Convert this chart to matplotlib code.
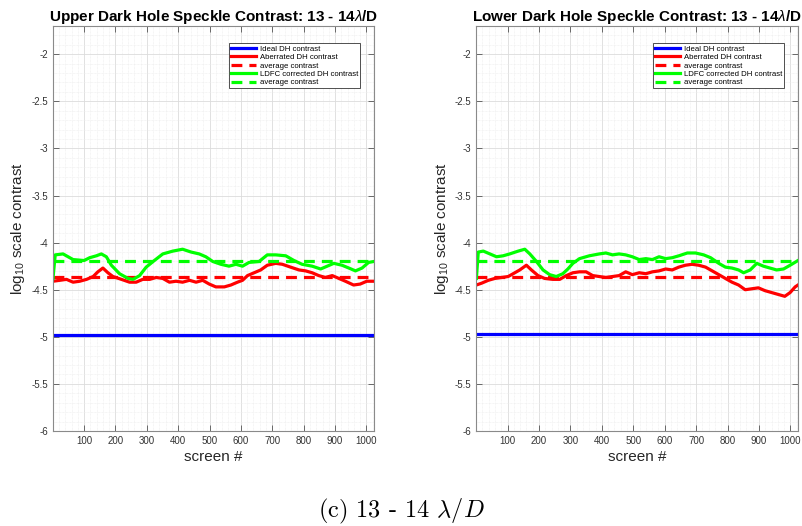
import matplotlib
matplotlib.use("Agg")
import matplotlib.pyplot as plt
from matplotlib.ticker import MultipleLocator
import numpy as np

plt.rcParams['font.family'] = ['Liberation Sans', 'DejaVu Sans']
plt.rcParams['mathtext.fontset'] = 'custom'
plt.rcParams['mathtext.rm'] = 'Liberation Sans'
plt.rcParams['mathtext.it'] = 'Liberation Sans:italic'

# ---- Upper dark hole ----
upper_ldfc_x = [1, 8, 33, 65, 100, 118, 139, 155, 171, 187, 213, 240, 256, 277, 298, 324,
                351, 383, 414, 441, 467, 488, 510, 536, 562, 584, 605, 626, 658, 684, 711,
                743, 769, 795, 827, 854, 875, 896, 922, 944, 965, 986, 1007, 1024]
upper_ldfc_y = [-4.38, -4.13, -4.12, -4.18, -4.19, -4.16, -4.14, -4.12, -4.15, -4.24, -4.33,
                -4.38, -4.39, -4.35, -4.26, -4.19, -4.12, -4.09, -4.07, -4.10, -4.12, -4.15,
                -4.20, -4.23, -4.25, -4.23, -4.25, -4.21, -4.20, -4.13, -4.13, -4.14, -4.19,
                -4.23, -4.25, -4.28, -4.25, -4.22, -4.24, -4.27, -4.30, -4.27, -4.21, -4.20]
upper_aber_x = [1, 23, 44, 65, 86, 108, 129, 144, 160, 176, 192, 219, 245, 266, 287, 309,
                330, 351, 372, 393, 414, 436, 457, 478, 499, 520, 547, 568, 589, 605, 621,
                642, 663, 684, 711, 732, 758, 785, 806, 827, 848, 869, 891, 912, 933, 959,
                980, 1001, 1024]
upper_aber_y = [-4.41, -4.40, -4.39, -4.42, -4.41, -4.39, -4.36, -4.31, -4.27, -4.32, -4.36,
                -4.39, -4.42, -4.42, -4.39, -4.39, -4.37, -4.38, -4.42, -4.41, -4.42, -4.40,
                -4.42, -4.40, -4.44, -4.47, -4.47, -4.45, -4.42, -4.40, -4.35, -4.32, -4.29,
                -4.24, -4.22, -4.23, -4.26, -4.29, -4.30, -4.32, -4.35, -4.37, -4.35, -4.38,
                -4.41, -4.45, -4.44, -4.41, -4.41]
upper_ideal = -4.985
upper_aber_avg = -4.37
upper_ldfc_avg = -4.195

# ---- Lower dark hole ----
lower_ldfc_x = [1, 7, 23, 44, 65, 86, 107, 134, 155, 171, 192, 213, 234, 255, 276, 292, 308,
                329, 360, 392, 413, 434, 455, 476, 497, 519, 540, 561, 582, 603, 624, 645,
                672, 698, 724, 746, 772, 793, 814, 835, 851, 872, 893, 914, 935, 956, 978,
                999, 1024]
lower_ldfc_y = [-4.38, -4.10, -4.09, -4.12, -4.15, -4.14, -4.12, -4.09, -4.07, -4.12, -4.20,
                -4.29, -4.34, -4.36, -4.33, -4.28, -4.22, -4.17, -4.14, -4.12, -4.11, -4.13,
                -4.12, -4.13, -4.15, -4.18, -4.17, -4.18, -4.15, -4.17, -4.16, -4.14, -4.11,
                -4.11, -4.13, -4.16, -4.22, -4.26, -4.27, -4.29, -4.32, -4.29, -4.22, -4.25,
                -4.27, -4.29, -4.28, -4.24, -4.19]
lower_aber_x = [1, 18, 39, 60, 81, 102, 118, 139, 160, 176, 197, 218, 244, 266, 287, 308,
                329, 350, 371, 392, 413, 434, 455, 476, 497, 519, 540, 561, 582, 603, 624,
                645, 666, 687, 708, 730, 751, 772, 793, 814, 835, 856, 877, 898, 919, 940,
                961, 982, 999, 1015, 1024]
lower_aber_y = [-4.45, -4.43, -4.40, -4.38, -4.37, -4.36, -4.33, -4.29, -4.24, -4.29, -4.35,
                -4.38, -4.39, -4.39, -4.35, -4.32, -4.31, -4.31, -4.35, -4.36, -4.37, -4.36,
                -4.35, -4.31, -4.34, -4.32, -4.33, -4.31, -4.30, -4.28, -4.29, -4.26, -4.24,
                -4.23, -4.24, -4.26, -4.30, -4.34, -4.38, -4.42, -4.45, -4.50, -4.49, -4.48,
                -4.51, -4.53, -4.55, -4.57, -4.53, -4.47, -4.45]
lower_ideal = -4.97
lower_aber_avg = -4.36
lower_ldfc_avg = -4.19

titles = ["Upper Dark Hole Speckle Contrast: 13 - 14$\\lambda$/D",
          "Lower Dark Hole Speckle Contrast: 13 - 14$\\lambda$/D"]
legend_labels = ["Ideal DH contrast", "Aberrated DH contrast", "average contrast",
                 "LDFC corrected DH contrast", "average contrast"]
xticks = [100, 200, 300, 400, 500, 600, 700, 800, 900, 1000]
yticks = [-6, -5.5, -5, -4.5, -4, -3.5, -3, -2.5, -2]
ytick_labels = ["-6", "-5.5", "-5", "-4.5", "-4", "-3.5", "-3", "-2.5", "-2"]
xlim = (1, 1024)
ylim = (-6, -1.7)

panels = [
    (upper_ideal, upper_aber_x, upper_aber_y, upper_aber_avg,
     upper_ldfc_x, upper_ldfc_y, upper_ldfc_avg),
    (lower_ideal, lower_aber_x, lower_aber_y, lower_aber_avg,
     lower_ldfc_x, lower_ldfc_y, lower_ldfc_avg),
]

fig = plt.figure(figsize=(8.02, 5.26), dpi=100)
positions = [[0.0661, 0.1806, 0.4002, 0.770], [0.5940, 0.1806, 0.4010, 0.770]]

blue = (0, 0, 1)
red = (1, 0, 0)
green = (0, 1, 0)
dash = (0, (3.4, 2.2))

for pos, title, data in zip(positions, titles, panels):
    ideal, ax_x, ax_y, a_avg, lx, ly, l_avg = data
    ax = fig.add_axes(pos)
    ax.plot(xlim, [ideal, ideal], color=blue, lw=2.3, label=legend_labels[0])
    ax.plot(ax_x, ax_y, color=red, lw=2.3, label=legend_labels[1])
    ax.plot(xlim, [a_avg, a_avg], color=red, lw=2.3, linestyle=dash, label=legend_labels[2])
    ax.plot(lx, ly, color=green, lw=2.3, label=legend_labels[3])
    ax.plot(xlim, [l_avg, l_avg], color=green, lw=2.3, linestyle=dash, label=legend_labels[4])

    ax.set_xlim(*xlim)
    ax.set_ylim(*ylim)
    ax.set_xticks(xticks)
    ax.set_yticks(yticks)
    ax.set_yticklabels(ytick_labels)
    ax.xaxis.set_minor_locator(MultipleLocator(20))
    ax.yaxis.set_minor_locator(MultipleLocator(0.1))
    ax.grid(which='major', color='#dcdcdc', lw=0.6)
    ax.grid(which='minor', color='#ececec', lw=0.5, linestyle=(0, (1, 1)))
    ax.set_axisbelow(True)
    ax.tick_params(which='both', direction='in', top=True, right=True,
                   colors='#555555', labelcolor='#333333', labelsize=7)
    ax.tick_params(which='major', length=4, width=0.6)
    ax.tick_params(which='minor', length=0)
    for s in ax.spines.values():
        s.set_color('#8a8a8a')
        s.set_linewidth(0.8)

    ax.set_title(title, fontsize=11, fontweight='bold', pad=2)
    ax.set_xlabel("screen #", fontsize=11, color='#262626', labelpad=3)
    ax.set_ylabel("log$_{10}$ scale contrast", fontsize=11, color='#262626', labelpad=3)

    leg = ax.legend(loc='upper right', bbox_to_anchor=(0.957, 0.957), fontsize=5.6,
                    handlelength=3.2, handletextpad=0.5, labelspacing=0.12,
                    borderpad=0.25, borderaxespad=0.0, fancybox=False, framealpha=1)
    leg.get_frame().set_edgecolor('#333333')
    leg.get_frame().set_linewidth(0.6)

fig.text(0.5, 0.017, r"(c) 13 - 14 $\lambda/D$", ha='center', va='baseline',
         fontsize=17.5, family='cmr10', math_fontfamily='cm')

fig.savefig("out.png", dpi=100)
